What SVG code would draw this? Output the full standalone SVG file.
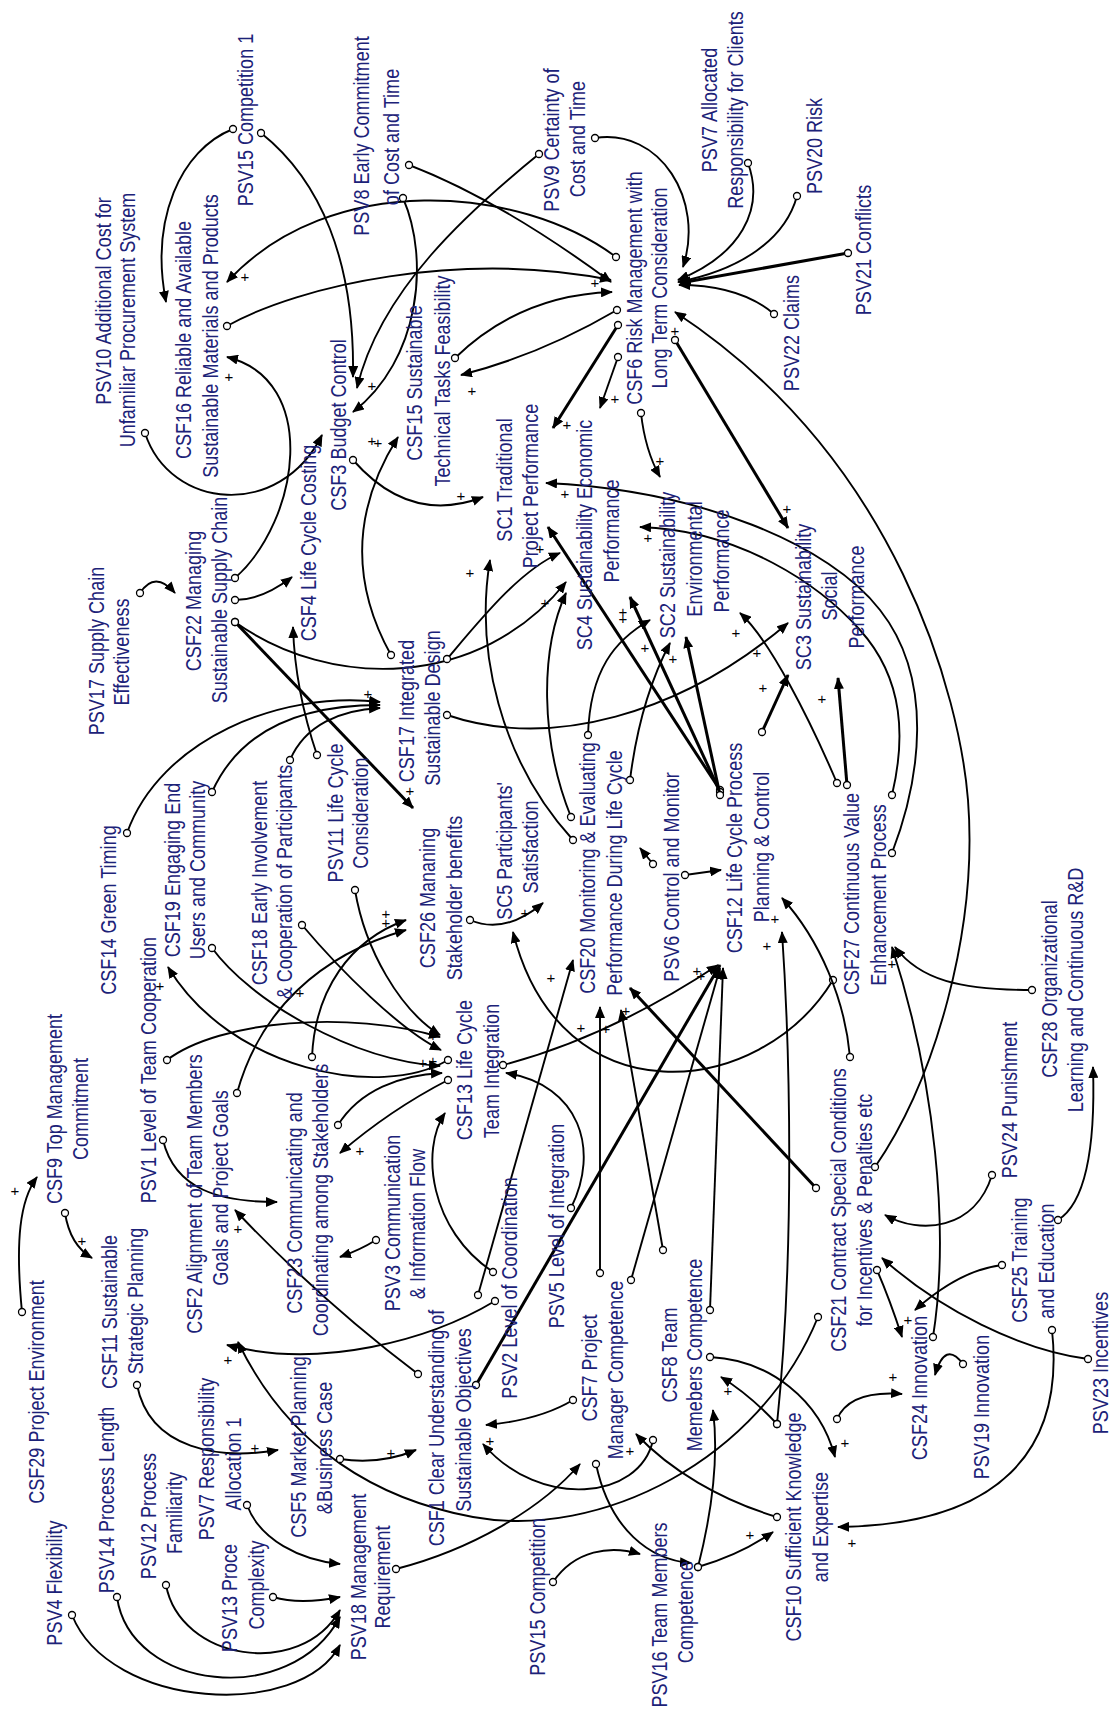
<svg xmlns="http://www.w3.org/2000/svg" width="1118" height="1717" viewBox="0 0 1118 1717">
<style>
.t{font-family:"Liberation Sans",Arial,sans-serif;font-size:22px;fill:#1c2278;text-anchor:middle}
.l{fill:none;stroke:#000;stroke-width:1.9;marker-start:url(#tc);marker-end:url(#ah)}
.k{stroke-width:3}
.p{font-family:"Liberation Sans",Arial,sans-serif;font-size:15px;fill:#000;text-anchor:middle;dominant-baseline:central}
</style>
<defs>
<marker id="ah" viewBox="0 0 12 10" refX="11" refY="5" markerWidth="12" markerHeight="10" markerUnits="userSpaceOnUse" orient="auto"><path d="M0,0 L12,5 L0,10 z" fill="#000"/></marker>
<marker id="tc" viewBox="0 0 10 10" refX="5" refY="5" markerWidth="10" markerHeight="10" markerUnits="userSpaceOnUse"><circle cx="5" cy="5" r="3.5" fill="#fff" stroke="#000" stroke-width="1.3"/></marker>
</defs>
<rect width="1118" height="1717" fill="#fff"/>
<g id="connectors">
<path class="l" d="M233,129 C180,150 150,220 166,302"/>
<path class="l" d="M261,133 C320,180 355,260 353,377"/>
<path class="l" d="M616,257 C520,185 330,170 227,282"/>
<path class="l" d="M227,326 C300,285 460,250 611,280"/>
<path class="l" d="M409,165 Q500,200 611,282"/>
<path class="l" d="M403,198 C430,260 420,360 353,412"/>
<path class="l" d="M539,154 C470,210 380,290 357,388"/>
<path class="l" d="M595,138 C660,128 705,200 683,267"/>
<path class="l" d="M748,163 C765,210 740,255 678,280"/>
<path class="l" d="M797,196 C785,240 740,270 678,282"/>
<path class="l k" d="M848,253 L680,283"/>
<path class="l" d="M774,314 Q740,285 679,285"/>
<path class="l" d="M617,310 Q540,355 461,375"/>
<path class="l" d="M455,358 Q520,295 612,292"/>
<path class="l k" d="M618,325 L553,428"/>
<path class="l" d="M618,357 L600,408"/>
<path class="l" d="M641,413 Q645,450 660,477"/>
<path class="l k" d="M675,340 L788,528"/>
<path class="l" d="M875,1167 C935,1080 978,930 968,800 C960,700 900,460 675,312"/>
<path class="l" d="M353,460 Q410,525 483,497"/>
<path class="l" d="M391,655 Q330,545 398,437"/>
<path class="l" d="M145,433 C170,510 280,520 322,435"/>
<path class="l" d="M235,578 C300,520 320,380 227,357"/>
<path class="l" d="M235,600 Q262,600 292,577"/>
<path class="l" d="M140,593 Q155,570 175,593"/>
<path class="l" d="M235,622 C330,690 480,690 566,582"/>
<path class="l k" d="M235,622 L413,808"/>
<path class="l" d="M317,755 Q295,690 293,627"/>
<path class="l" d="M127,833 C160,740 280,690 380,702"/>
<path class="l" d="M212,792 C240,730 300,705 380,705"/>
<path class="l" d="M290,760 C305,725 340,710 380,708"/>
<path class="l" d="M447,659 C480,620 520,570 560,553"/>
<path class="l" d="M447,715 C550,750 680,715 788,623"/>
<path class="l" d="M571,817 C540,740 540,650 566,593"/>
<path class="l" d="M573,840 C500,760 475,650 490,560"/>
<path class="l" d="M588,735 C590,670 615,640 650,620"/>
<path class="l" d="M630,780 Q640,700 670,643"/>
<path class="l k" d="M720,790 L548,527"/>
<path class="l k" d="M720,792 L630,597"/>
<path class="l k" d="M720,795 L686,637"/>
<path class="l k" d="M762,732 L788,675"/>
<path class="l" d="M892,853 C920,780 935,680 880,610 C830,545 700,490 546,483"/>
<path class="l" d="M892,795 C905,740 905,680 860,630 C820,585 740,530 640,527"/>
<path class="l" d="M837,783 C810,720 770,640 740,613"/>
<path class="l k" d="M847,785 L838,678"/>
<path class="l" d="M448,1060 C380,1100 230,1070 168,967"/>
<path class="l" d="M167,1060 C220,1020 350,1010 440,1037"/>
<path class="l" d="M212,948 C250,1000 350,1060 440,1066"/>
<path class="l" d="M302,925 C340,970 400,1030 441,1050"/>
<path class="l" d="M355,890 C365,950 400,1010 440,1035"/>
<path class="l" d="M338,1125 C360,1090 400,1075 442,1073"/>
<path class="l" d="M312,1057 C315,990 350,940 406,920"/>
<path class="l" d="M237,1093 C260,1010 320,955 406,930"/>
<path class="l" d="M448,1080 Q390,1110 340,1153"/>
<path class="l" d="M376,1240 Q360,1250 340,1257"/>
<path class="l" d="M493,1272 C430,1230 420,1150 445,1113"/>
<path class="l" d="M503,1065 C580,1045 650,1010 718,965"/>
<path class="l" d="M571,1208 C600,1150 580,1085 506,1073"/>
<path class="l" d="M833,980 C760,1100 560,1120 513,932"/>
<path class="l" d="M470,920 Q505,935 543,903"/>
<path class="l" d="M685,875 L721,870"/>
<path class="l" d="M653,864 L640,848"/>
<path class="l" d="M65,1213 Q70,1245 92,1258"/>
<path class="l" d="M22,1312 C15,1240 20,1200 37,1177"/>
<path class="l" d="M163,1140 C175,1190 220,1202 277,1202"/>
<path class="l" d="M418,1374 Q320,1300 235,1210"/>
<path class="l" d="M137,1385 C150,1450 220,1460 278,1450"/>
<path class="l" d="M495,1301 C430,1340 320,1370 227,1345"/>
<path class="l" d="M818,1317 C760,1460 600,1540 473,1517 C380,1500 290,1450 238,1342"/>
<path class="l" d="M340,1459 Q380,1465 416,1450"/>
<path class="l" d="M247,1505 C260,1540 300,1560 340,1564"/>
<path class="l" d="M273,1597 Q300,1605 340,1597"/>
<path class="l" d="M166,1585 C180,1660 300,1680 340,1610"/>
<path class="l" d="M117,1597 C130,1690 290,1710 340,1617"/>
<path class="l" d="M72,1615 C110,1710 300,1720 340,1645"/>
<path class="l" d="M396,1569 C470,1550 540,1510 580,1464"/>
<path class="l" d="M553,1582 C575,1550 610,1545 640,1554"/>
<path class="l" d="M573,1400 Q540,1420 486,1425"/>
<path class="l" d="M653,1440 C640,1500 540,1510 483,1444"/>
<path class="l" d="M596,1464 C610,1530 650,1560 691,1563"/>
<path class="l" d="M600,1273 L600,1007"/>
<path class="l" d="M631,1280 L720,968"/>
<path class="l" d="M663,1250 L621,1010"/>
<path class="l" d="M710,1310 L723,968"/>
<path class="l k" d="M476,1385 L720,965"/>
<path class="l" d="M478,1295 L573,960"/>
<path class="l k" d="M816,1188 L630,988"/>
<path class="l" d="M850,1057 C845,1000 820,940 782,898"/>
<path class="l" d="M777,1424 C795,1250 790,1050 782,932"/>
<path class="l" d="M992,1175 C975,1230 920,1235 885,1215"/>
<path class="l" d="M1058,1220 C1090,1200 1095,1130 1093,1067"/>
<path class="l" d="M1032,990 C960,990 920,980 895,947"/>
<path class="l" d="M933,1337 C950,1230 935,1080 892,947"/>
<path class="l" d="M1002,1265 Q960,1270 915,1310"/>
<path class="l" d="M1088,1359 C1020,1350 940,1310 882,1258"/>
<path class="l" d="M877,1270 Q890,1300 902,1337"/>
<path class="l" d="M963,1364 Q945,1340 935,1375"/>
<path class="l" d="M837,1419 Q850,1390 902,1394"/>
<path class="l" d="M1052,1330 C1065,1450 1000,1525 838,1527"/>
<path class="l" d="M710,1357 C770,1360 820,1400 835,1457"/>
<path class="l" d="M777,1424 Q750,1395 721,1377"/>
<path class="l" d="M698,1567 Q740,1555 773,1532"/>
<path class="l" d="M777,1517 C720,1500 670,1470 636,1434"/>
<path class="l" d="M698,1567 C715,1500 718,1450 713,1410"/>
</g>
<g id="polarity">
<text class="p" x="245" y="276">+</text><text class="p" x="229" y="376">+</text><text class="p" x="372" y="385">+</text><text class="p" x="372" y="440">+</text>
<text class="p" x="472" y="390">+</text><text class="p" x="567" y="424">+</text><text class="p" x="615" y="398">+</text><text class="p" x="595" y="282">+</text>
<text class="p" x="675" y="330">+</text><text class="p" x="660" y="460">+</text><text class="p" x="787" y="508">+</text><text class="p" x="461" y="495">+</text>
<text class="p" x="378" y="442">+</text><text class="p" x="545" y="602">+</text><text class="p" x="410" y="790">+</text><text class="p" x="368" y="693">+</text>
<text class="p" x="540" y="548">+</text><text class="p" x="757" y="652">+</text><text class="p" x="470" y="572">+</text><text class="p" x="645" y="647">+</text>
<text class="p" x="673" y="658">+</text><text class="p" x="623" y="611">+</text><text class="p" x="623" y="618">+</text><text class="p" x="763" y="687">+</text>
<text class="p" x="565" y="493">+</text><text class="p" x="648" y="537">+</text><text class="p" x="736" y="632">+</text><text class="p" x="822" y="698">+</text>
<text class="p" x="160" y="985">+</text><text class="p" x="433" y="1035">+</text><text class="p" x="423" y="1062">+</text><text class="p" x="433" y="1060">+</text>
<text class="p" x="386" y="913">+</text><text class="p" x="386" y="922">+</text><text class="p" x="300" y="992">+</text><text class="p" x="360" y="1150">+</text>
<text class="p" x="701" y="975">+</text><text class="p" x="697" y="970">+</text><text class="p" x="525" y="912">+</text><text class="p" x="82" y="1240">+</text>
<text class="p" x="15" y="1190">+</text><text class="p" x="238" y="1228">+</text><text class="p" x="255" y="1447">+</text><text class="p" x="228" y="1359">+</text>
<text class="p" x="391" y="1452">+</text><text class="p" x="490" y="1440">+</text><text class="p" x="581" y="1027">+</text><text class="p" x="606" y="1028">+</text>
<text class="p" x="626" y="1010">+</text><text class="p" x="551" y="977">+</text><text class="p" x="775" y="918">+</text><text class="p" x="767" y="945">+</text>
<text class="p" x="892" y="963">+</text><text class="p" x="908" y="1319">+</text><text class="p" x="893" y="1376">+</text><text class="p" x="852" y="1542">+</text>
<text class="p" x="845" y="1442">+</text><text class="p" x="728" y="1390">+</text><text class="p" x="750" y="1534">+</text><text class="p" x="630" y="1450">+</text>
</g>
<g id="PSV15c1"><text class="t" transform="translate(253,120) rotate(-90) scale(0.82,1)">PSV15 Competition 1</text></g>
<g id="PSV10"><text class="t" transform="translate(111,301) rotate(-90) scale(0.82,1)">PSV10 Additional Cost for</text><text class="t" transform="translate(135,320) rotate(-90) scale(0.82,1)">Unfamiliar Procurement System</text></g>
<g id="CSF16"><text class="t" transform="translate(191,340) rotate(-90) scale(0.82,1)">CSF16 Reliable and Available</text><text class="t" transform="translate(218,336) rotate(-90) scale(0.82,1)">Sustainable Materials and Products</text></g>
<g id="PSV8"><text class="t" transform="translate(369,136) rotate(-90) scale(0.82,1)">PSV8 Early Commitment</text><text class="t" transform="translate(399,137) rotate(-90) scale(0.82,1)">of Cost and Time</text></g>
<g id="PSV9"><text class="t" transform="translate(559,140) rotate(-90) scale(0.82,1)">PSV9 Certainty of</text><text class="t" transform="translate(585,139) rotate(-90) scale(0.82,1)">Cost and Time</text></g>
<g id="PSV7a"><text class="t" transform="translate(717,110) rotate(-90) scale(0.82,1)">PSV7 Allocated</text><text class="t" transform="translate(743,110) rotate(-90) scale(0.82,1)">Responsibility for Clients</text></g>
<g id="PSV20"><text class="t" transform="translate(822,146) rotate(-90) scale(0.82,1)">PSV20 Risk</text></g>
<g id="PSV21"><text class="t" transform="translate(871,250) rotate(-90) scale(0.82,1)">PSV21 Conflicts</text></g>
<g id="PSV22"><text class="t" transform="translate(799,333) rotate(-90) scale(0.82,1)">PSV22 Claims</text></g>
<g id="CSF6"><text class="t" transform="translate(642,288) rotate(-90) scale(0.82,1)">CSF6 Risk Management with</text><text class="t" transform="translate(667,288) rotate(-90) scale(0.82,1)">Long Term Consideration</text></g>
<g id="CSF15"><text class="t" transform="translate(422,383) rotate(-90) scale(0.82,1)">CSF15 Sustainable</text><text class="t" transform="translate(450,381) rotate(-90) scale(0.82,1)">Technical Tasks Feasibility</text></g>
<g id="CSF3"><text class="t" transform="translate(346,425) rotate(-90) scale(0.82,1)">CSF3 Budget Control</text></g>
<g id="SC1"><text class="t" transform="translate(512,480) rotate(-90) scale(0.82,1)">SC1 Traditional</text><text class="t" transform="translate(538,486) rotate(-90) scale(0.82,1)">Project Performance</text></g>
<g id="SC4"><text class="t" transform="translate(592,535) rotate(-90) scale(0.82,1)">SC4 Sustainability Economic</text><text class="t" transform="translate(619,531) rotate(-90) scale(0.82,1)">Performance</text></g>
<g id="SC2"><text class="t" transform="translate(675,565) rotate(-90) scale(0.82,1)">SC2 Sustainability</text><text class="t" transform="translate(702,559) rotate(-90) scale(0.82,1)">Environmental</text><text class="t" transform="translate(729,561) rotate(-90) scale(0.82,1)">Performance</text></g>
<g id="SC3"><text class="t" transform="translate(811,597) rotate(-90) scale(0.82,1)">SC3 Sustainability</text><text class="t" transform="translate(837,596) rotate(-90) scale(0.82,1)">Social</text><text class="t" transform="translate(864,597) rotate(-90) scale(0.82,1)">Performance</text></g>
<g id="CSF22"><text class="t" transform="translate(201,601) rotate(-90) scale(0.82,1)">CSF22 Managing</text><text class="t" transform="translate(227,600) rotate(-90) scale(0.82,1)">Sustainable Supply Chain</text></g>
<g id="PSV17"><text class="t" transform="translate(104,651) rotate(-90) scale(0.82,1)">PSV17 Supply Chain</text><text class="t" transform="translate(129,652) rotate(-90) scale(0.82,1)">Effectiveness</text></g>
<g id="CSF4"><text class="t" transform="translate(316,543) rotate(-90) scale(0.82,1)">CSF4 Life Cycle Costing</text></g>
<g id="CSF17"><text class="t" transform="translate(414,711) rotate(-90) scale(0.82,1)">CSF17 Integrated</text><text class="t" transform="translate(440,708) rotate(-90) scale(0.82,1)">Sustainable Design</text></g>
<g id="CSF26"><text class="t" transform="translate(435,898) rotate(-90) scale(0.82,1)">CSF26 Mananing</text><text class="t" transform="translate(462,898) rotate(-90) scale(0.82,1)">Stakeholder benefits</text></g>
<g id="PSV11"><text class="t" transform="translate(343,813) rotate(-90) scale(0.82,1)">PSV11 Life Cycle</text><text class="t" transform="translate(368,813) rotate(-90) scale(0.82,1)">Consideration</text></g>
<g id="CSF18"><text class="t" transform="translate(267,883) rotate(-90) scale(0.82,1)">CSF18 Early Involvement</text><text class="t" transform="translate(292,882) rotate(-90) scale(0.82,1)">&amp; Cooperation of Participants</text></g>
<g id="CSF19"><text class="t" transform="translate(180,870) rotate(-90) scale(0.82,1)">CSF19 Engaging End</text><text class="t" transform="translate(205,870) rotate(-90) scale(0.82,1)">Users and Community</text></g>
<g id="CSF14"><text class="t" transform="translate(116,910) rotate(-90) scale(0.82,1)">CSF14 Green Timing</text></g>
<g id="CSF9"><text class="t" transform="translate(62,1109) rotate(-90) scale(0.82,1)">CSF9 Top Management</text><text class="t" transform="translate(88,1109) rotate(-90) scale(0.82,1)">Commitment</text></g>
<g id="PSV1"><text class="t" transform="translate(156,1070) rotate(-90) scale(0.82,1)">PSV1 Level of Team Cooperation</text></g>
<g id="CSF2"><text class="t" transform="translate(202,1194) rotate(-90) scale(0.82,1)">CSF2 Alignment of Team Members</text><text class="t" transform="translate(228,1188) rotate(-90) scale(0.82,1)">Goals and Project Goals</text></g>
<g id="CSF23"><text class="t" transform="translate(302,1203) rotate(-90) scale(0.82,1)">CSF23 Communicating and</text><text class="t" transform="translate(328,1200) rotate(-90) scale(0.82,1)">Coordinating  among Stakeholders</text></g>
<g id="PSV3"><text class="t" transform="translate(400,1223) rotate(-90) scale(0.82,1)">PSV3 Communication</text><text class="t" transform="translate(425,1224) rotate(-90) scale(0.82,1)">&amp; Information Flow</text></g>
<g id="CSF13"><text class="t" transform="translate(472,1070) rotate(-90) scale(0.82,1)">CSF13 Life Cycle</text><text class="t" transform="translate(499,1071) rotate(-90) scale(0.82,1)">Team Integration</text></g>
<g id="SC5"><text class="t" transform="translate(512,851) rotate(-90) scale(0.82,1)">SC5 Participants'</text><text class="t" transform="translate(538,847) rotate(-90) scale(0.82,1)">Satisfaction</text></g>
<g id="CSF20"><text class="t" transform="translate(595,868) rotate(-90) scale(0.82,1)">CSF20 Monitoring &amp; Evaluating</text><text class="t" transform="translate(622,873) rotate(-90) scale(0.82,1)">Performance During Life Cycle</text></g>
<g id="PSV6"><text class="t" transform="translate(679,877) rotate(-90) scale(0.82,1)">PSV6 Control and Monitor</text></g>
<g id="CSF12"><text class="t" transform="translate(742,848) rotate(-90) scale(0.82,1)">CSF12 Life Cycle Process</text><text class="t" transform="translate(769,847) rotate(-90) scale(0.82,1)">Planning &amp; Control</text></g>
<g id="CSF27"><text class="t" transform="translate(859,894) rotate(-90) scale(0.82,1)">CSF27 Continuous Value</text><text class="t" transform="translate(886,895) rotate(-90) scale(0.82,1)">Enhancement Process</text></g>
<g id="CSF28"><text class="t" transform="translate(1057,989) rotate(-90) scale(0.82,1)">CSF28 Organizational</text><text class="t" transform="translate(1083,990) rotate(-90) scale(0.82,1)">Learning and Continuous R&amp;D</text></g>
<g id="PSV24"><text class="t" transform="translate(1017,1100) rotate(-90) scale(0.82,1)">PSV24 Punishment</text></g>
<g id="CSF21"><text class="t" transform="translate(846,1210) rotate(-90) scale(0.82,1)">CSF21 Contract Special Conditions</text><text class="t" transform="translate(872,1210) rotate(-90) scale(0.82,1)">for Incentives &amp; Penalties etc</text></g>
<g id="CSF25"><text class="t" transform="translate(1027,1260) rotate(-90) scale(0.82,1)">CSF25 Training</text><text class="t" transform="translate(1054,1261) rotate(-90) scale(0.82,1)">and Education</text></g>
<g id="PSV23"><text class="t" transform="translate(1108,1363) rotate(-90) scale(0.82,1)">PSV23 Incentives</text></g>
<g id="PSV19"><text class="t" transform="translate(989,1407) rotate(-90) scale(0.82,1)">PSV19 Innovation</text></g>
<g id="CSF24"><text class="t" transform="translate(927,1388) rotate(-90) scale(0.82,1)">CSF24 Innovation</text></g>
<g id="CSF10"><text class="t" transform="translate(801,1527) rotate(-90) scale(0.82,1)">CSF10 Sufficient Knowledge</text><text class="t" transform="translate(828,1527) rotate(-90) scale(0.82,1)">and Expertise</text></g>
<g id="CSF8"><text class="t" transform="translate(677,1355) rotate(-90) scale(0.82,1)">CSF8 Team</text><text class="t" transform="translate(702,1355) rotate(-90) scale(0.82,1)">Memebers Competence</text></g>
<g id="CSF7"><text class="t" transform="translate(597,1368) rotate(-90) scale(0.82,1)">CSF7 Project</text><text class="t" transform="translate(623,1370) rotate(-90) scale(0.82,1)">Manager Competence</text></g>
<g id="PSV16"><text class="t" transform="translate(667,1615) rotate(-90) scale(0.82,1)">PSV16 Team Members</text><text class="t" transform="translate(693,1612) rotate(-90) scale(0.82,1)">Competence</text></g>
<g id="PSV15"><text class="t" transform="translate(545,1597) rotate(-90) scale(0.82,1)">PSV15 Competition</text></g>
<g id="CSF1"><text class="t" transform="translate(444,1428) rotate(-90) scale(0.82,1)">CSF1 Clear Understanding of</text><text class="t" transform="translate(471,1420) rotate(-90) scale(0.82,1)">Sustainable Objectives</text></g>
<g id="PSV2"><text class="t" transform="translate(517,1288) rotate(-90) scale(0.82,1)">PSV2 Level of Coordination</text></g>
<g id="PSV5"><text class="t" transform="translate(564,1226) rotate(-90) scale(0.82,1)">PSV5 Level of Integration</text></g>
<g id="PSV18"><text class="t" transform="translate(366,1577) rotate(-90) scale(0.82,1)">PSV18 Management</text><text class="t" transform="translate(390,1577) rotate(-90) scale(0.82,1)">Requirement</text></g>
<g id="CSF5"><text class="t" transform="translate(306,1447) rotate(-90) scale(0.82,1)">CSF5 Market Planning</text><text class="t" transform="translate(332,1448) rotate(-90) scale(0.82,1)">&amp;Business Case</text></g>
<g id="PSV7r"><text class="t" transform="translate(214,1459) rotate(-90) scale(0.82,1)">PSV7 Responsibility</text><text class="t" transform="translate(241,1464) rotate(-90) scale(0.82,1)">Allocation 1</text></g>
<g id="PSV13"><text class="t" transform="translate(237,1598) rotate(-90) scale(0.82,1)">PSV13 Proce</text><text class="t" transform="translate(264,1585) rotate(-90) scale(0.82,1)">Complexity</text></g>
<g id="PSV12"><text class="t" transform="translate(156,1516) rotate(-90) scale(0.82,1)">PSV12 Process</text><text class="t" transform="translate(182,1513) rotate(-90) scale(0.82,1)">Familiarity</text></g>
<g id="PSV14"><text class="t" transform="translate(114,1500) rotate(-90) scale(0.82,1)">PSV14 Process Length</text></g>
<g id="PSV4"><text class="t" transform="translate(62,1583) rotate(-90) scale(0.82,1)">PSV4 Flexibility</text></g>
<g id="CSF29"><text class="t" transform="translate(44,1392) rotate(-90) scale(0.82,1)">CSF29 Project Environment</text></g>
<g id="CSF11"><text class="t" transform="translate(117,1312) rotate(-90) scale(0.82,1)">CSF11 Sustainable</text><text class="t" transform="translate(143,1301) rotate(-90) scale(0.82,1)">Strategic Planning</text></g>
</svg>
